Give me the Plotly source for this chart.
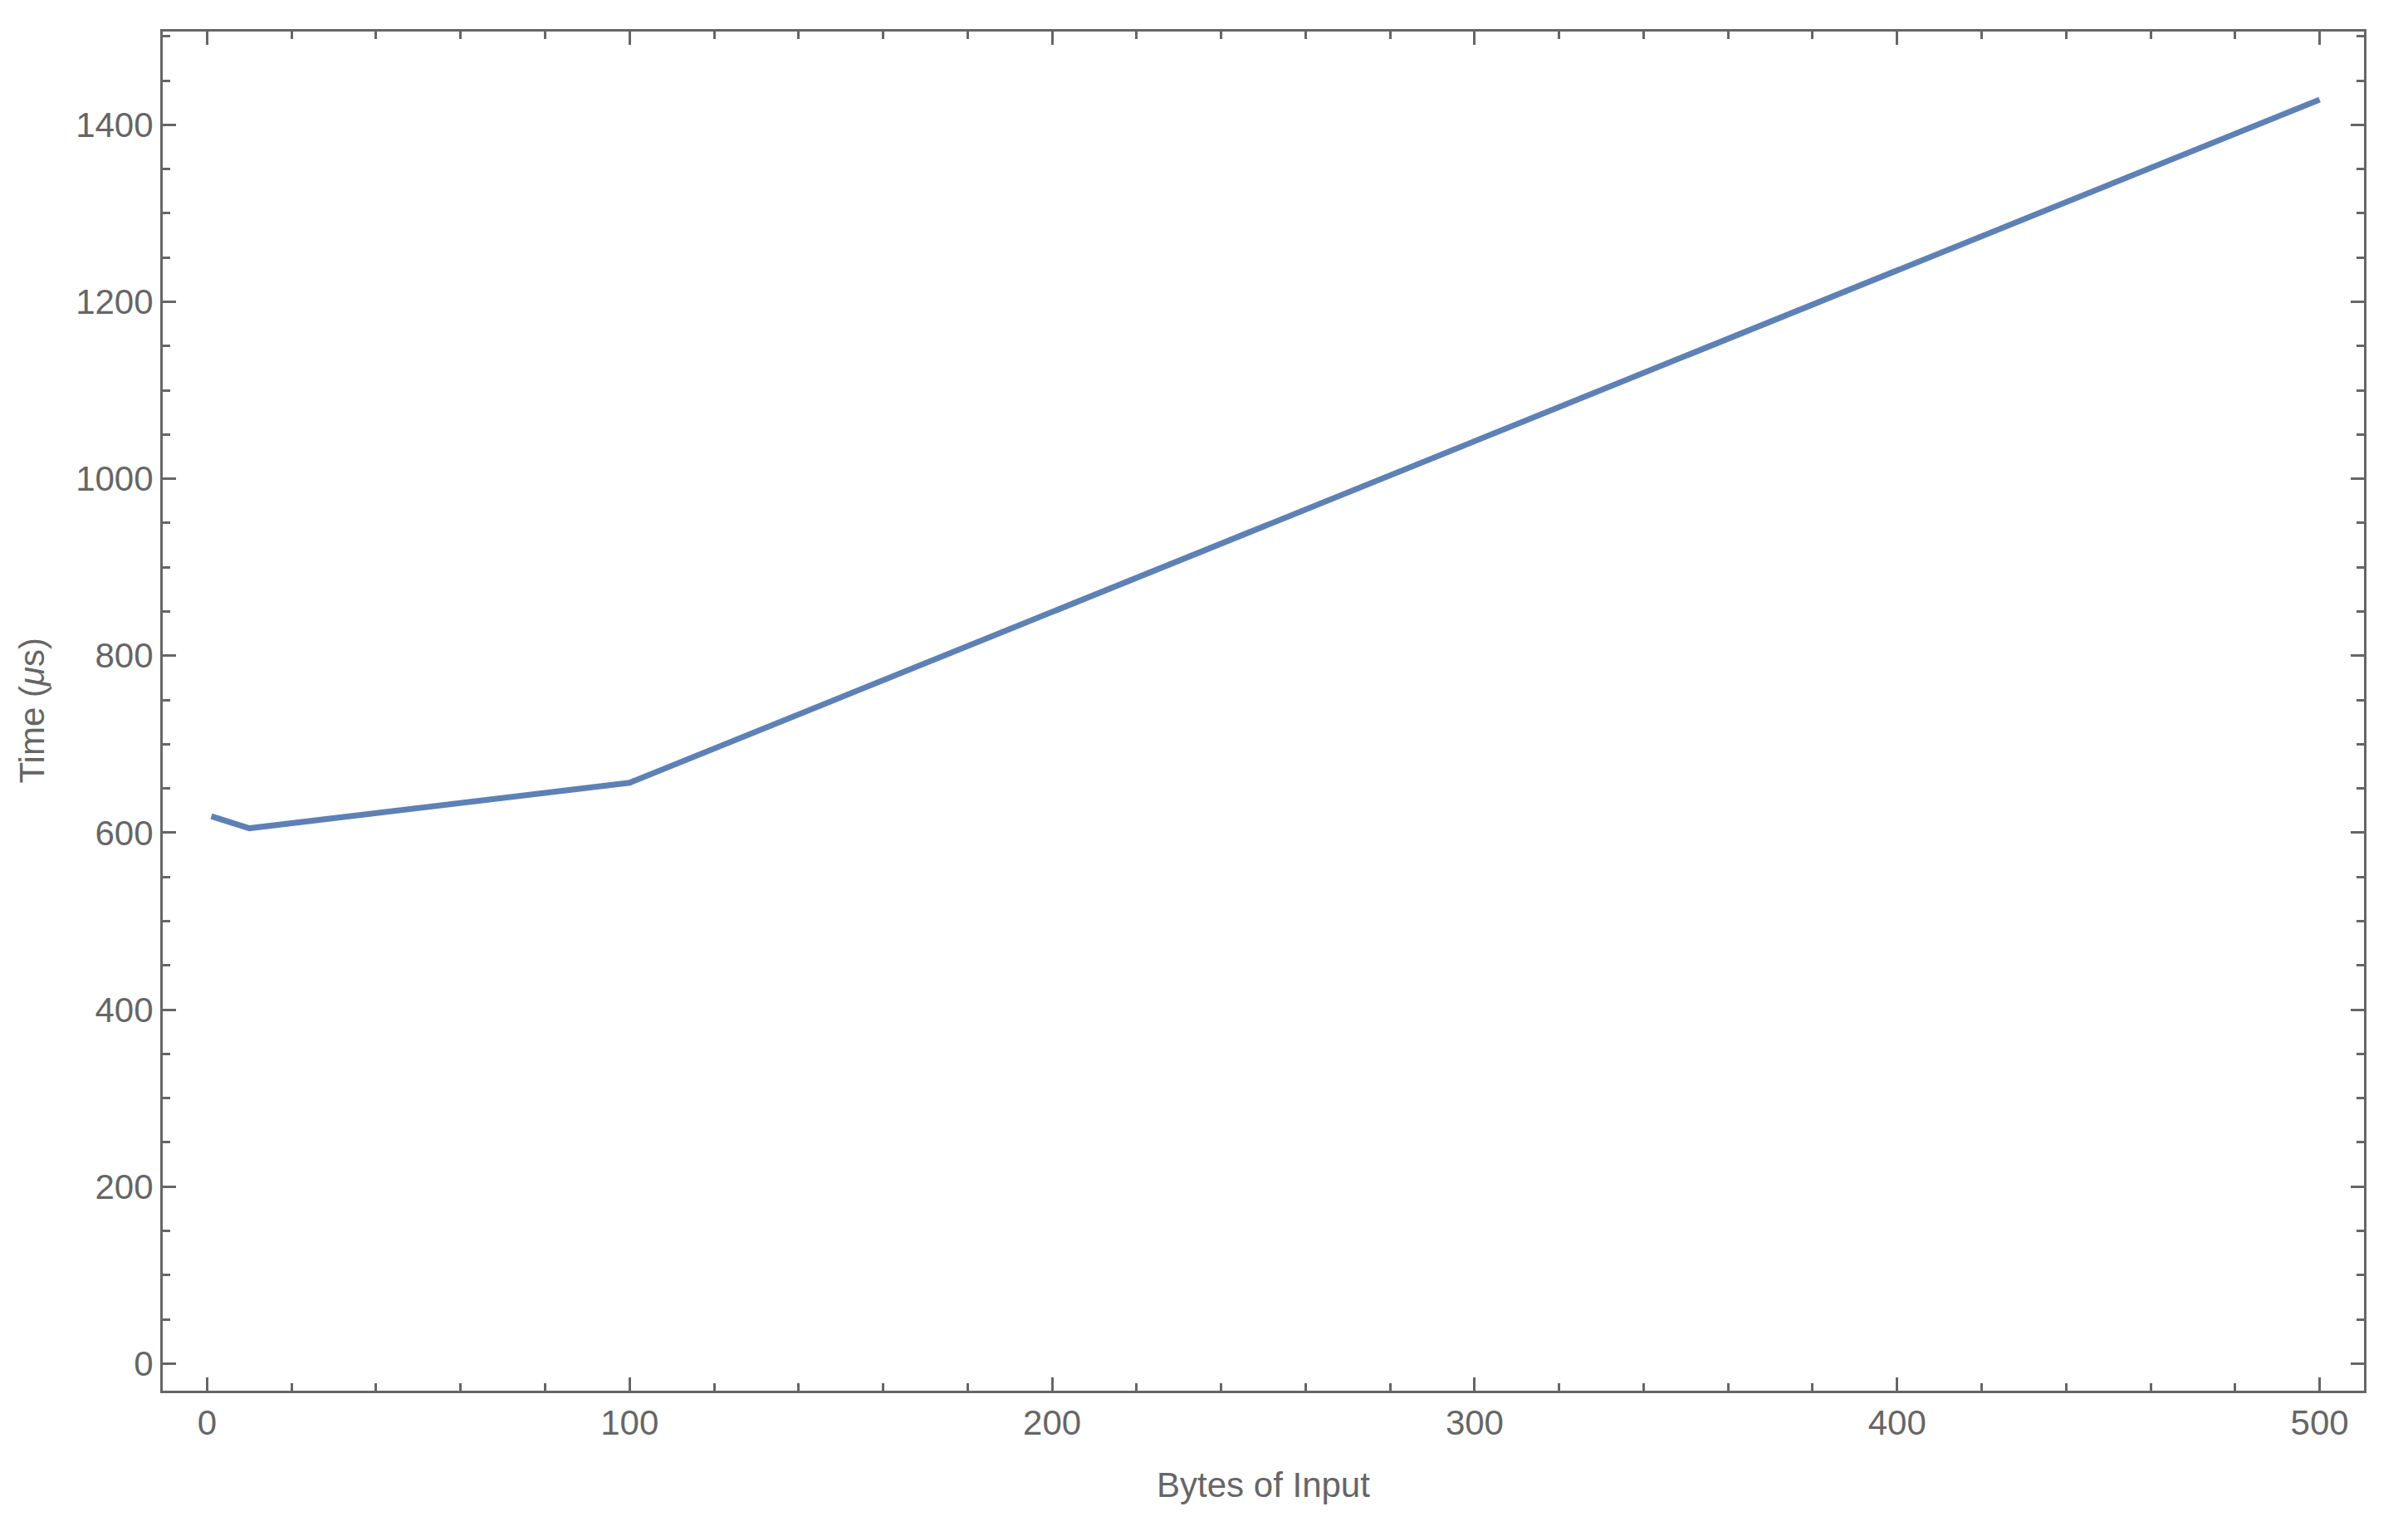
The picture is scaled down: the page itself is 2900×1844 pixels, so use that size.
import plotly.graph_objects as go

# measured timings
bytes_in = [1, 10, 100, 500]
time_us = [618.5, 605, 656.5, 1428.5]

x_ticks = [0, 100, 200, 300, 400, 500]
y_ticks = [0, 200, 400, 600, 800, 1000, 1200, 1400]

frame = "#666666"
font = dict(family="Liberation Sans, Arial, sans-serif", size=42, color="#666666")

fig = go.Figure(
    go.Scatter(
        x=bytes_in,
        y=time_us,
        mode="lines",
        line=dict(color="#5E81B5", width=7),
        hoverinfo="skip",
    )
)

axis_common = dict(
    showline=True,
    linecolor=frame,
    linewidth=3,
    mirror="allticks",
    ticks="inside",
    ticklen=16,
    tickwidth=2.5,
    tickcolor=frame,
    showgrid=False,
    zeroline=False,
    tickfont=font,
)

fig.update_xaxes(
    **axis_common,
    range=[-10.5, 510.5],
    tickvals=x_ticks,
    minor=dict(dtick=20, tick0=0, ticks="inside", ticklen=9, tickwidth=2.5, tickcolor=frame, showgrid=False),
    title=dict(text="Bytes of Input", font=font, standoff=38),
)
fig.update_yaxes(
    **axis_common,
    range=[-30.7, 1505.5],
    tickvals=y_ticks,
    minor=dict(dtick=50, tick0=0, ticks="inside", ticklen=9, tickwidth=2.5, tickcolor=frame, showgrid=False),
)

# y title sits closer to the labels than standoff allows, so use an annotation
fig.add_annotation(
    text="Time (<i>μ</i>s)",
    xref="paper", yref="paper",
    x=-0.0596, y=0.5,
    xanchor="center", yanchor="middle",
    textangle=-90,
    showarrow=False,
    font=font,
)

# page body adds an 8px margin, so the figure is a bit smaller than the window
fig.update_layout(
    width=2884,
    height=1828,
    margin=dict(l=188, r=45, t=30, b=161, autoexpand=False),
    paper_bgcolor="white",
    plot_bgcolor="white",
    showlegend=False,
)

fig.write_html("out.html")
